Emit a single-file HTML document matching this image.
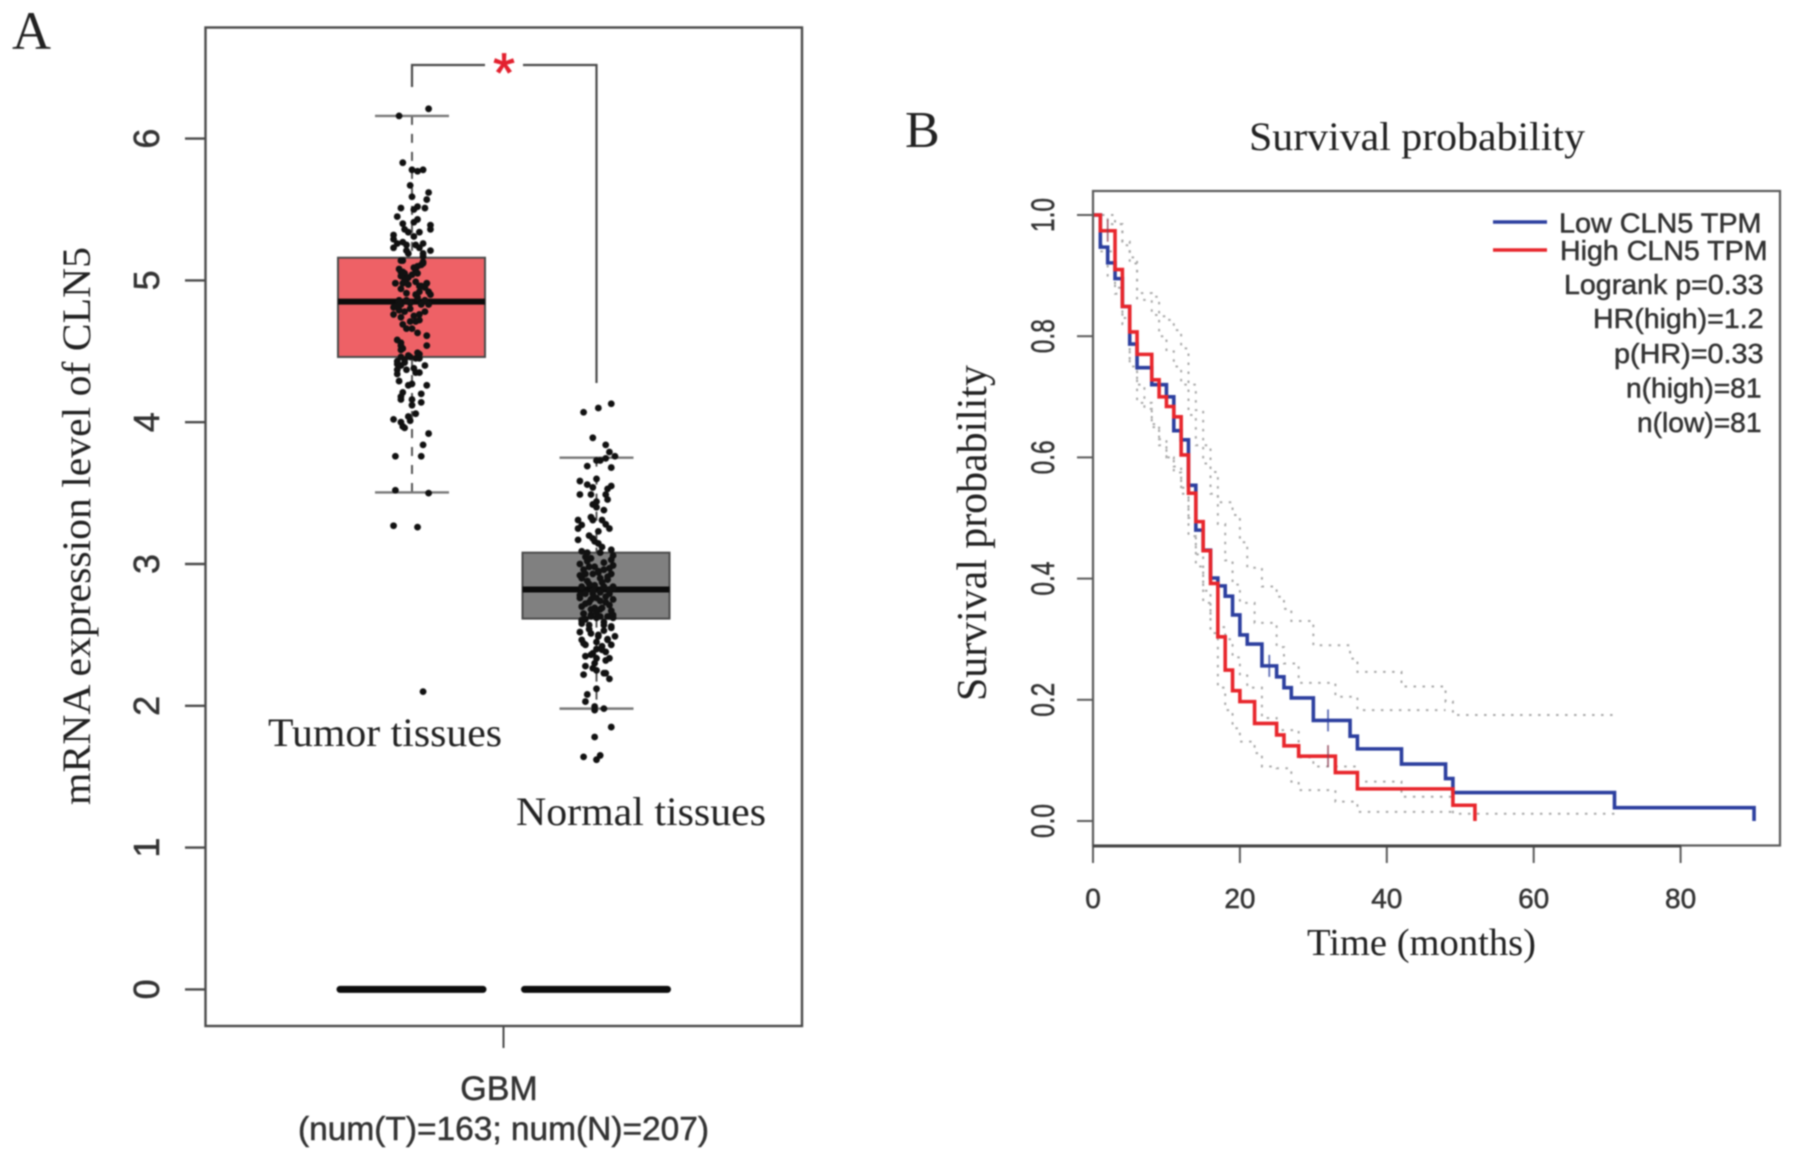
<!DOCTYPE html>
<html lang="en">
<head>
<meta charset="utf-8">
<title>CLN5 expression and survival</title>
<style>
html,body{margin:0;padding:0;background:#fff;width:1795px;height:1160px;overflow:hidden}
svg{display:block;filter:blur(.8px)}
.serif{font-family:"Liberation Serif",serif;fill:#222}
.sans{font-family:"Liberation Sans",sans-serif;fill:#333;stroke:#333;stroke-width:.5}
</style>
</head>
<body>
<svg id="figure" width="1795" height="1160" viewBox="0 0 1795 1160" xmlns="http://www.w3.org/2000/svg">
  <rect width="1795" height="1160" fill="#fff"/>
  <text class="serif" x="12" y="49" font-size="54" fill="#111">A</text>
  <text class="serif" x="905" y="147" font-size="52" fill="#111">B</text>

  <g id="boxplot"></g>
  <rect x="205.5" y="27.5" width="596.5" height="998.5" fill="none" stroke="#4a4a4a" stroke-width="2.4"/>
  <text class="serif" transform="translate(90,805) rotate(-90)" font-size="40" textLength="558" lengthAdjust="spacingAndGlyphs">mRNA expression level of CLN5</text>
  <text class="serif" x="268" y="746" font-size="40" textLength="234" lengthAdjust="spacingAndGlyphs">Tumor tissues</text>
  <text class="serif" x="516" y="825" font-size="40" textLength="250" lengthAdjust="spacingAndGlyphs">Normal tissues</text>
  <text class="sans" x="499" y="1100" font-size="34" text-anchor="middle">GBM</text>
  <text class="sans" x="503.5" y="1140" font-size="33" text-anchor="middle" textLength="411" lengthAdjust="spacingAndGlyphs">(num(T)=163; num(N)=207)</text>
  <path d="M412 87V65H485M523 65H596.5V383" fill="none" stroke="#4a4a4a" stroke-width="2.2"/>
  <text x="504" y="92" font-size="56" text-anchor="middle" font-family="Liberation Sans, sans-serif" fill="#e3212f" stroke="#e3212f" stroke-width=".8">*</text>

  <g id="survival"></g>
  <rect x="1093" y="191" width="687" height="654.5" fill="none" stroke="#5a5a5a" stroke-width="2.2"/>
  <line x1="1093" y1="846" x2="1681" y2="846" stroke="#444" stroke-width="3"/>
  <text class="serif" x="1249" y="150" font-size="40" textLength="336" lengthAdjust="spacingAndGlyphs">Survival probability</text>
  <text class="serif" transform="translate(986,701) rotate(-90)" font-size="42" textLength="336" lengthAdjust="spacingAndGlyphs">Survival probability</text>
  <text class="serif" x="1307" y="955" font-size="38" textLength="229" lengthAdjust="spacingAndGlyphs">Time (months)</text>

  <g>
    <line x1="1493" y1="222" x2="1547" y2="222" stroke="#2c3f9f" stroke-width="3.5"/>
    <line x1="1493" y1="250" x2="1547" y2="250" stroke="#e8262c" stroke-width="3.5"/>
    <text class="sans" x="1559" y="232.5" font-size="28" textLength="202.5" lengthAdjust="spacingAndGlyphs">Low CLN5 TPM</text>
    <text class="sans" x="1560" y="260" font-size="28" textLength="207.5" lengthAdjust="spacingAndGlyphs">High CLN5 TPM</text>
    <text class="sans" x="1564" y="294" font-size="28" textLength="199.5" lengthAdjust="spacingAndGlyphs">Logrank p=0.33</text>
    <text class="sans" x="1593" y="328" font-size="28" textLength="170.5" lengthAdjust="spacingAndGlyphs">HR(high)=1.2</text>
    <text class="sans" x="1614" y="363" font-size="28" textLength="149.5" lengthAdjust="spacingAndGlyphs">p(HR)=0.33</text>
    <text class="sans" x="1626" y="397.5" font-size="28" textLength="135.5" lengthAdjust="spacingAndGlyphs">n(high)=81</text>
    <text class="sans" x="1637" y="432" font-size="28" textLength="124.5" lengthAdjust="spacingAndGlyphs">n(low)=81</text>
  </g>
</svg>
<script>
// ---- Panel A data ----
var boxTicks = [0, 1, 2, 3, 4, 5, 6];
var boxTickLabels = ['0', '1', '2', '3', '4', '5', '6'];
var tumorStats = [3.505, 4.46, 4.85, 5.16, 6.16];
var normalStats = [1.98, 2.615, 2.82, 3.08, 3.75];
var tumorValues = [6.21,6.16,5.83,5.78,5.77,5.78,5.67,5.62,5.59,5.57,5.51,5.52,5.50,5.51,5.45,5.43,5.41,5.40,5.39,5.36,5.36,5.34,5.31,5.34,5.32,5.29,5.27,5.26,5.23,5.25,5.25,5.26,5.23,5.21,5.21,5.19,5.14,5.13,5.11,5.07,5.06,5.05,5.01,4.98,4.98,4.98,4.96,5.17,5.19,5.14,5.12,5.10,5.06,5.03,5.04,5.05,5.0,4.98,4.98,4.97,4.96,4.94,4.92,4.92,4.9,4.86,4.86,4.86,4.90,4.81,4.83,4.84,4.83,4.83,4.79,4.78,4.78,4.76,4.74,4.76,4.71,4.71,4.66,4.66,4.63,4.61,4.58,4.54,4.54,4.51,4.49,4.46,4.46,4.45,4.45,4.43,4.44,4.40,4.40,4.37,4.37,4.35,4.35,4.34,4.29,4.27,4.26,4.26,4.21,4.2,4.18,4.16,4.16,4.12,4.14,4.06,4.04,4.02,4.0,4.01,3.97,3.96,3.92,3.84,3.76,3.76,3.52,3.50,3.27,3.26,2.10,5.09,5.02,4.95,4.88,4.82,4.75,4.69,4.56,4.48,4.42,5.08,4.99,4.91,4.80,4.72,4.52,4.47,4.41,4.38];
var tumorJitter = [9,-7,-5,0,3,6,-1,9,0,8,-6,3,1,7,-8,3,1,-5,10,10,-4,-2,1,4,-10,-10,-5,-8,-10,-3,2,6,4,10,-3,6,-5,6,5,2,-6,-4,-3,-9,-5,8,4,6,-2,-6,6,3,-5,-6,0,3,-4,-9,8,-2,5,-6,9,4,2,-7,-3,7,10,-10,-6,-1,5,9,-7,-4,7,-10,-6,4,-1,2,-3,0,3,8,-8,8,-6,-6,3,-1,-6,2,4,-8,-4,-6,7,-8,-3,2,4,-8,-7,0,-2,8,-5,5,-6,-6,0,0,5,2,-2,-10,-6,-1,-5,-4,9,6,-9,5,-9,9,-10,3,6,1,-2,7,3,-8,1,-5,-6,4,-4,-7,2,-3,-1,4,-5,-2,-8,1,0];
var normalValues = [4.13,4.10,4.07,3.89,3.84,3.79,3.76,3.745,3.73,3.73,3.69,3.68,3.6,3.585,3.56,3.54,3.55,3.53,3.49,3.49,3.49,3.455,3.44,3.42,3.40,3.38,3.33,3.31,3.31,3.31,3.28,3.275,3.25,3.25,3.23,3.2,3.18,3.17,3.16,3.145,3.12,3.1,3.09,3.08,3.08,3.06,3.05,3.03,3.0,2.99,2.98,2.98,2.97,2.96,2.93,2.93,2.93,2.9,2.9,2.89,2.86,2.85,2.84,2.84,2.84,2.79,2.79,2.8,2.79,2.76,2.73,2.76,2.73,2.75,2.7,2.69,2.69,2.67,2.65,2.64,2.63,2.63,2.62,2.605,2.65,2.63,2.63,2.64,2.62,2.58,2.57,2.57,2.55,2.52,2.51,2.49,2.49,2.465,2.465,2.43,2.43,2.40,2.395,2.38,2.35,2.36,2.335,2.335,2.30,2.28,2.265,2.25,2.23,2.22,2.23,2.19,2.12,2.08,2.03,1.995,1.97,1.98,1.85,1.78,1.64,1.65,1.62,3.04,3.01,2.96,2.94,2.91,2.88,2.87,2.83,2.81,2.78,2.77,2.74,2.72,2.71,2.68,2.66,2.6,2.59,2.56,2.54,2.5,2.47,2.44,2.42,2.37,2.32,3.02,2.95,2.92,2.82,2.75,2.68,2.61,2.53,2.45];
var normalJitter = [8,1,-7,-2,5,7,10,5,2,0,-5,8,0,-9,-5,-2,8,6,-9,-3,5,6,0,-2,0,4,-3,-2,-10,3,5,-8,-10,7,1,-4,-2,-10,-1,1,3,8,-8,-5,2,9,-6,8,-9,9,-4,-1,7,4,-6,-2,8,-8,2,6,-4,-1,-8,4,9,-6,-2,2,7,-9,-4,0,5,9,-8,-1,3,8,-7,-3,2,7,9,-8,-7,-3,6,9,0,-8,-4,4,8,-9,-3,1,10,6,-8,-6,8,0,3,5,-6,-3,0,7,-1,-6,-2,0,4,-7,5,7,0,-5,-6,-1,-1,4,8,-1,-7,2,0,-3,4,-7,1,6,-5,3,9,-2,-9,5,2,-6,7,-3,0,-8,4,8,-4,1,6,-7,3,-2,5,-5,1,-9,7,-3,2,-6,4,0,-8,6];

// ---- Panel B data ----
var survTicks = [0, 0.2, 0.4, 0.6, 0.8, 1];
var survTickLabels = ['0.0', '0.2', '0.4', '0.6', '0.8', '1.0'];
var timeTicks = [0, 20, 40, 60, 80];
var timeTickLabels = ['0', '20', '40', '60', '80'];
var lowTimes = [0,1,2,3,4,5,6,8,10,11,12,13,14,15,16,17,18,19,20,21,23,25,26,27,30,35,36,42,48,49,71,90];
var lowSurvival = [1,.947,.921,.895,.849,.787,.748,.72,.70,.644,.629,.554,.48,.447,.401,.388,.371,.34,.307,.292,.256,.238,.22,.203,.166,.14,.119,.094,.07,.047,.022,0];
var highTimes = [0,1,3,4,5,6,8,9,10,11,12,13,14,15,16,17,18,19,20,22,25,26,28,33,36,49,52];
var highSurvival = [1,.974,.91,.849,.807,.77,.728,.70,.684,.667,.604,.541,.494,.446,.392,.304,.249,.215,.197,.161,.142,.124,.107,.08,.053,.026,0];
var lowUpperTimes = [0,2,4,5,6,8,9,10,11,12,13,14,15,16,17,19,20,21,23,25,26,27,30,35,36,42,48,49,71];
var lowUpperSurvival = [1,.985,.956,.93,.871,.865,.833,.827,.81,.78,.72,.678,.62,.576,.526,.505,.46,.418,.387,.37,.35,.33,.29,.268,.246,.222,.197,.175,.172];
var highUpperTimes = [0,3,4,5,6,8,9,10,11,12,13,14,15,16,17,18,19,20,22,25,26,28,33,36,48];
var highUpperSurvival = [1,.985,.95,.92,.86,.835,.80,.775,.75,.72,.67,.62,.59,.54,.49,.43,.39,.36,.327,.287,.26,.228,.205,.183,.183];
var lowLowerTimes = [1,2,3,4,5,6,8,9,10,11,12,13,14,15,16,17,18,19,20,21,23,25,28,30,36,42,48,49,71];
var lowLowerSurvival = [.95,.90,.87,.82,.75,.69,.65,.63,.60,.575,.55,.50,.44,.38,.34,.32,.30,.27,.24,.22,.17,.15,.105,.09,.065,.04,.04,.012,.012];
var highLowerTimes = [1,3,4,5,6,7,8,9,10,11,12,13,14,15,16,17,18,19,20,22,23,25,27,28,33,36,49];
var highLowerSurvival = [.94,.88,.83,.76,.72,.68,.655,.62,.60,.585,.54,.47,.42,.36,.31,.22,.183,.153,.131,.112,.09,.087,.065,.051,.032,.015,.015];
var lowCensorTimes = [24, 32];
var lowCensorSurvival = [.256, .166];
var highCensorTimes = [2, 32];
var highCensorSurvival = [.974, .107];

// ---- Axis functions ----
function yBox(v) { return 989.4 - 141.8 * v; }
function xBox(cat) { return 412 + 184.5 * cat; }
function xJitter(cat, j) { return xBox(cat) + j * 1.845; }
function xTime(t) { return 1093 + 7.345 * t; }
function ySurv(s) { return 821 - 606 * s; }

var NS = 'http://www.w3.org/2000/svg';
function make(tag, parent, attrs) {
  var el = document.createElementNS(NS, tag);
  for (var k in attrs) { el.setAttribute(k, attrs[k]); }
  parent.appendChild(el);
  return el;
}

// ---- Panel A ----
var boxRoot = document.getElementById('boxplot');
boxTicks.forEach(function (v, i) {
  var tick = make('line', boxRoot, {x1: 185, x2: 205.5, y1: yBox(v), y2: yBox(v), stroke: '#4a4a4a', 'stroke-width': 2.4});
  
  
  var label = make('text', boxRoot, {transform: 'translate(159,' + yBox(v) + ') rotate(-90)', 'text-anchor': 'middle', 'font-size': 36, 'class': 'sans'});
  label.textContent = boxTickLabels[i];
  
  
});
var xTickMark = make('line', boxRoot, {x1: 503.5, x2: 503.5, y1: 1026, y2: 1048, stroke: '#4a4a4a', 'stroke-width': 2});



function drawBox(cat, stats, fill, nameBase) {
  var cx = xBox(cat);
  var whisker = make('path', boxRoot, {d: 'M' + cx + ' ' + yBox(stats[4]) + 'V' + yBox(stats[3]) + 'M' + cx + ' ' + yBox(stats[1]) + 'V' + yBox(stats[0]), stroke: '#555', 'stroke-width': 2, 'stroke-dasharray': '9 9', fill: 'none'});
  
  
  [stats[0], stats[4]].forEach(function (v) {
    var cap = make('line', boxRoot, {x1: cx - 37, x2: cx + 37, y1: yBox(v), y2: yBox(v), stroke: '#777', 'stroke-width': 2.4});
    
    
  });
  var box = make('rect', boxRoot, {x: cx - 74, width: 147, y: yBox(stats[3]), height: yBox(stats[1]) - yBox(stats[3]), fill: fill, stroke: '#4a4a4a', 'stroke-width': 2});
  
  
  var median = make('line', boxRoot, {x1: cx - 74, x2: cx + 73, y1: yBox(stats[2]), y2: yBox(stats[2]), stroke: '#0c0c0c', 'stroke-width': 6});
  
  
  var baseline = make('line', boxRoot, {x1: cx - 72, x2: cx + 71, y1: yBox(0), y2: yBox(0), stroke: '#0c0c0c', 'stroke-width': 7, 'stroke-linecap': 'round'});
  
  
}
function drawPoints(cat, values, jitter, nameBase) {
  values.forEach(function (v, i) {
    var pt = make('circle', boxRoot, {cx: xJitter(cat, jitter[i]), cy: yBox(v), r: 3.4, fill: '#111'});
    
    
  });
}
drawBox(0, tumorStats, '#ee6166', 'tumor');
drawBox(1, normalStats, '#808080', 'normal');
drawPoints(0, tumorValues, tumorJitter, 'tumor');
drawPoints(1, normalValues, normalJitter, 'normal');

// ---- Panel B ----
var survRoot = document.getElementById('survival');
survTicks.forEach(function (s, i) {
  var tick = make('line', survRoot, {x1: 1077, x2: 1093, y1: ySurv(s), y2: ySurv(s), stroke: '#5a5a5a', 'stroke-width': 2});
  
  
  var label = make('text', survRoot, {transform: 'translate(1054,' + ySurv(s) + ') rotate(-90)', 'text-anchor': 'middle', 'font-size': 32, textLength: 34, lengthAdjust: 'spacingAndGlyphs', 'class': 'sans'});
  label.textContent = survTickLabels[i];
  
  
});
timeTicks.forEach(function (t, i) {
  var tick = make('line', survRoot, {x1: xTime(t), x2: xTime(t), y1: 846, y2: 863, stroke: '#5a5a5a', 'stroke-width': 2});
  
  
  var label = make('text', survRoot, {x: xTime(t), y: 908, 'text-anchor': 'middle', 'font-size': 28, 'class': 'sans'});
  label.textContent = timeTickLabels[i];
  
  
});

function stepPath(times, survival) {
  var d = 'M' + xTime(times[0]) + ' ' + ySurv(survival[0]);
  for (var i = 1; i < times.length; i++) {
    d += 'H' + xTime(times[i]) + 'V' + ySurv(survival[i]);
  }
  return d;
}
function drawBand(times, survival, name) {
  var band = make('path', survRoot, {d: stepPath(times, survival), fill: 'none', stroke: '#a8a8a8', 'stroke-width': 2, 'stroke-dasharray': '2.5 6.5'});
  
  
}
drawBand(lowUpperTimes, lowUpperSurvival, 'low-upper-confidence-line');
drawBand(lowLowerTimes, lowLowerSurvival, 'low-lower-confidence-line');
drawBand(highUpperTimes, highUpperSurvival, 'high-upper-confidence-line');
drawBand(highLowerTimes, highLowerSurvival, 'high-lower-confidence-line');

function drawCurve(times, survival, color, name) {
  var curve = make('path', survRoot, {d: stepPath(times, survival), fill: 'none', stroke: color, 'stroke-width': 3.6});
  
  
}
function drawCensors(times, survival, color, name) {
  times.forEach(function (t, i) {
    var mark = make('line', survRoot, {x1: xTime(t), x2: xTime(t), y1: ySurv(survival[i]) - 11, y2: ySurv(survival[i]) + 11, stroke: color, 'stroke-width': 1.8, opacity: .75});
    
    
  });
}
drawCurve(lowTimes, lowSurvival, '#2c3f9f', 'low-cln5-curve');
drawCensors(lowCensorTimes, lowCensorSurvival, '#2c3f9f', 'low-censor-mark');
drawCurve(highTimes, highSurvival, '#e8262c', 'high-cln5-curve');
drawCensors(highCensorTimes, highCensorSurvival, '#8a3a50', 'high-censor-mark');
</script>
</body>
</html>
